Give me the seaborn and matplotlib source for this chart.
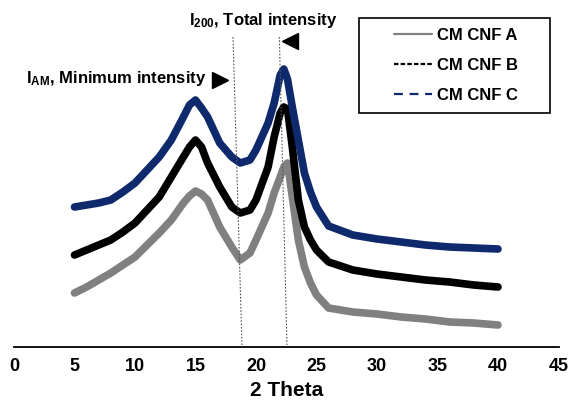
import matplotlib
matplotlib.use("Agg")
import matplotlib.pyplot as plt
from matplotlib.lines import Line2D
from matplotlib.patches import Rectangle
import seaborn as sns
import pandas as pd

# values (intensity in arbitrary units)
two_theta = [5, 6, 7, 8, 9, 10, 11, 12, 13, 14, 14.5, 15, 15.5, 16, 17, 18, 18.7, 19.5,
             20, 21, 21.5, 22, 22.3, 22.6, 23, 23.5, 24, 24.5, 25, 26, 28, 30, 32, 34, 36, 38, 40]
cnf_a = [54, 60, 67, 74, 82, 90, 102, 114, 127, 144, 151, 156, 153, 147, 120, 100, 87, 94,
         107, 134, 154, 170, 180, 184, 150, 107, 80, 64, 52, 39, 35, 33, 30, 28, 25, 24, 22]
cnf_b = [92, 97, 102, 107, 115, 124, 137, 150, 170, 190, 200, 207, 200, 184, 160, 140, 134, 137,
         147, 180, 210, 234, 240, 238, 200, 147, 120, 107, 97, 85, 77, 73, 70, 67, 65, 62, 60]
cnf_c = [140, 142, 144, 147, 155, 164, 177, 190, 207, 230, 242, 247, 239, 230, 204, 190, 184, 187,
         197, 224, 244, 272, 278, 268, 240, 207, 174, 155, 140, 121, 112, 108, 105, 102, 100, 99, 98]
labels = ["CM CNF A", "CM CNF B", "CM CNF C"]
colors = ["#808080", "#000000", "#0f2a6c"]
xticks = [0, 5, 10, 15, 20, 25, 30, 35, 40, 45]

# guide lines: I_AM and I_200 positions (x at top, x at bottom)
am_line = [18.1, 18.84]
i200_line = [21.93, 22.56]

sns.set_style("white")
plt.rcParams["font.family"] = ["Liberation Sans", "DejaVu Sans"]
plt.rcParams["font.weight"] = "bold"
plt.rcParams["text.color"] = "black"
plt.rcParams["axes.labelcolor"] = "black"
plt.rcParams["xtick.color"] = "black"
plt.rcParams["mathtext.fontset"] = "custom"
plt.rcParams["mathtext.rm"] = "Liberation Sans:bold"
plt.rcParams["mathtext.it"] = "Liberation Sans:bold"
plt.rcParams["mathtext.bf"] = "Liberation Sans:bold"

df = pd.DataFrame({
    "2 Theta": two_theta * 3,
    "Intensity": cnf_a + cnf_b + cnf_c,
    "Sample": [labels[0]] * len(two_theta) + [labels[1]] * len(two_theta) + [labels[2]] * len(two_theta),
})

fig = plt.figure(figsize=(5.72, 4.05), dpi=100)
ax = fig.add_axes([14 / 572, 58 / 405, 544.5 / 572, 347 / 405])

sns.lineplot(data=df, x="2 Theta", y="Intensity", hue="Sample", palette=colors,
             linewidth=5.5, legend=False, ax=ax, zorder=2)

ax.plot(am_line, [310, 2], color="#555555", ls=(0, (1.5, 1.5)), lw=0.8, zorder=3)
ax.plot(i200_line, [310, 2], color="#555555", ls=(0, (1.5, 1.5)), lw=0.8, zorder=3)
ax.plot([17.02], [267], marker=">", color="black", markersize=12, zorder=4)
ax.plot([22.81], [306], marker="<", color="black", markersize=12, zorder=4)

ax.text(15.9, 269, r"$\mathrm{I_{AM}}$, Minimum intensity", fontsize=12, fontweight="bold",
        ha="right", va="center")
ax.text(14.5, 327, r"$\mathrm{I_{200}}$, Total intensity", fontsize=12, fontweight="bold",
        ha="left", va="center")

ax.set_xlim(0, 45)
ax.set_ylim(0, 347)
ax.set_xticks(xticks)
ax.set_yticks([])
ax.tick_params(axis="x", length=0, labelsize=13, pad=8, labelcolor="black")
for t in ax.get_xticklabels():
    t.set_fontweight("bold")
ax.set_xlabel("2 Theta", fontsize=15, fontweight="bold", labelpad=4, color="black")
ax.set_ylabel("")
for s in ["top", "right", "left"]:
    ax.spines[s].set_visible(False)
ax.spines["bottom"].set_color("black")
ax.spines["bottom"].set_linewidth(1.3)

# legend with framed box
fig.patches.append(Rectangle((359 / 572, 1 - 113 / 405), 191 / 572, 95 / 405,
                             transform=fig.transFigure, fill=False, ec="black", lw=1.2))
handles = [
    Line2D([], [], color=colors[0], lw=1.6, ls="-"),
    Line2D([], [], color=colors[1], lw=1.6, ls=(0, (2, 1))),
    Line2D([], [], color=colors[2], lw=1.6, ls=(0, (4, 3))),
]
fig.legend(handles, labels, loc="center", bbox_to_anchor=(456 / 572, 1 - 65.5 / 405),
           frameon=False, handlelength=2.3, handletextpad=0.3,
           labelspacing=0.9, prop={"weight": "bold", "size": 12})

fig.savefig("out.png", dpi=100)
